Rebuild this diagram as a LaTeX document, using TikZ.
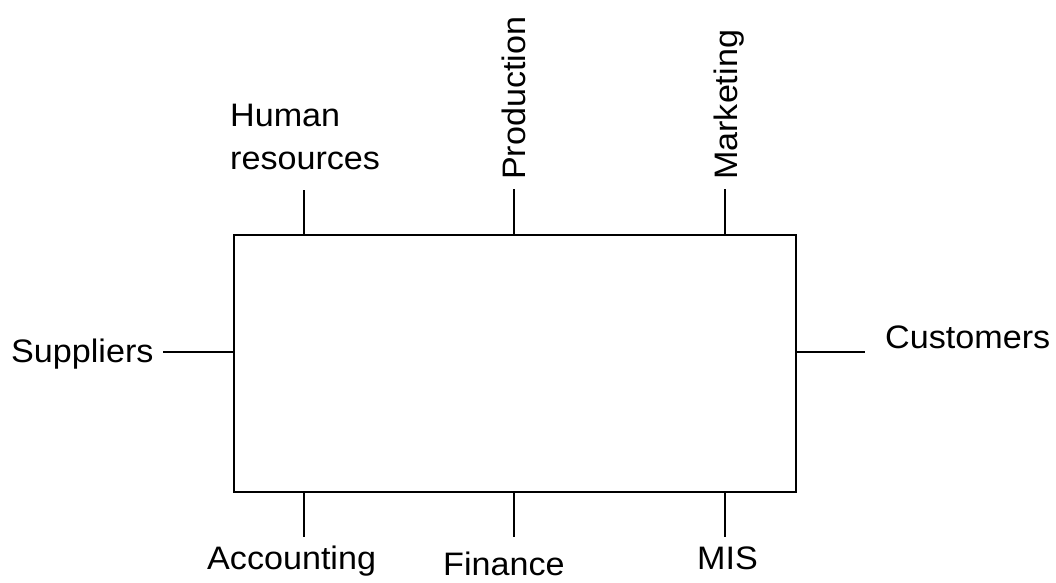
\documentclass[tikz,border=0pt]{standalone}
\usepackage{fontspec}
\setmainfont[FakeStretch=1.05]{Liberation Sans}
\begin{document}
\begin{tikzpicture}[x=1pt, y=-1pt,
  lbl/.style={inner sep=0pt, font=\fontsize{32.5}{43}\selectfont},
  link/.style={line width=2pt},
  frame/.style={draw, line width=2pt, inner sep=0pt, minimum width=562pt, minimum height=257pt}]
\useasboundingbox (0,0) rectangle (1056,582);

% central box
\node[frame, anchor=north west] (box) at (233,234) {};

% ends of the short connectors
\coordinate (hrA) at (304,234);  \coordinate (hrB) at (304,190);
\coordinate (prA) at (514,234);  \coordinate (prB) at (514,189);
\coordinate (mkA) at (725,234);  \coordinate (mkB) at (725,189);
\coordinate (suA) at (233,352);  \coordinate (suB) at (163,352);
\coordinate (cuA) at (795,352);  \coordinate (cuB) at (865,352);
\coordinate (acA) at (304,491);  \coordinate (acB) at (304,537);
\coordinate (fiA) at (514,491);  \coordinate (fiB) at (514,537);
\coordinate (miA) at (725,491);  \coordinate (miB) at (725,537);

% labels
\node[lbl, anchor=south west, align=left] (hr) at (230,170) {Human\\resources};
\node[lbl, rotate=90, anchor=base west] (prod) at (525,180) {Production};
\node[lbl, rotate=90, anchor=base west] (mkt) at (737,180) {Marketing};
\node[lbl, anchor=base west] (sup) at (11,362) {Suppliers};
\node[lbl, anchor=base west] (cust) at (885,348) {Customers};
\node[lbl, anchor=base west] (acc) at (207,569) {Accounting};
\node[lbl, anchor=base west] (fin) at (443,575) {Finance};
\node[lbl, anchor=base west] (mis) at (697,569) {MIS};

% connectors
\draw[link] (hrA) -- (hrB);
\draw[link] (prA) -- (prB);
\draw[link] (mkA) -- (mkB);
\draw[link] (suA) -- (suB);
\draw[link] (cuA) -- (cuB);
\draw[link] (acA) -- (acB);
\draw[link] (fiA) -- (fiB);
\draw[link] (miA) -- (miB);
\end{tikzpicture}
\end{document}
